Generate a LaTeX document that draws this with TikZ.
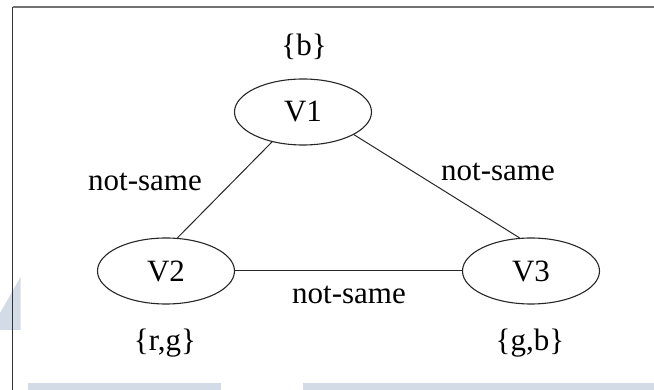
\documentclass[tikz,border=0pt]{standalone}
\usepackage{fontspec}
\setmainfont{Liberation Serif}
\usetikzlibrary{shapes.geometric}
\definecolor{wm}{HTML}{D3DCE6}
\begin{document}
\begin{tikzpicture}[x=1pt,y=-1pt,
  vnode/.style={ellipse,draw=black!85,line width=1.1pt,minimum width=137pt,minimum height=66pt,inner sep=0pt,font=\fontsize{31}{36}\selectfont},
  lbl/.style={font=\fontsize{31}{36}\selectfont,inner sep=0pt},
  edge/.style={draw=black!85,line width=1pt}]
\useasboundingbox (0,0) rectangle (654,390);
\clip (0,0) rectangle (654,390);
% watermark shapes
\fill[wm] (0,313) -- (20.5,277) -- (20.5,330) -- (0,330) -- cycle;
\fill[wm] (28,383) rectangle (221,395);
\fill[wm] (303,383) rectangle (660,395);
% frame
\draw[black!55, line width=2pt] (12.5,7.5) -- (660,7.5);
\draw[black!80, line width=1.3pt] (12.5,7.5) -- (12.5,400);
% nodes
\node[vnode] (V1) at (303,112) {V1};
\node[vnode] (V2) at (166,271) {V2};
\node[vnode] (V3) at (531,271) {V3};
% domains
\node[lbl] (d1) at (304,47) {\{b\}};
\node[lbl] (d2) at (165,343) {\{r,g\}};
\node[lbl] (d3) at (530,343) {\{g,b\}};
% edges
\draw[edge] (V1.-136) -- (V2.71);
\draw[edge] (V1.-24) -- (V3.109);
\draw[edge] (V2.east) -- (V3.west);
% edge labels
\node[lbl] (l12) at (145,182) {not-same};
\node[lbl] (l13) at (498,172) {not-same};
\node[lbl] (l23) at (349,295) {not-same};
\end{tikzpicture}
\end{document}
